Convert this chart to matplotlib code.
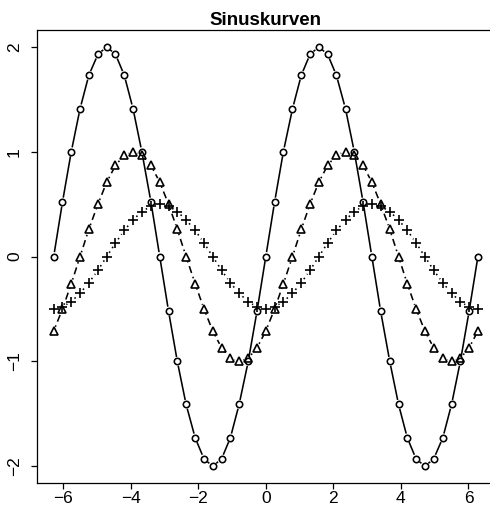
import numpy as np
import matplotlib.pyplot as plt
from matplotlib.collections import LineCollection

plt.rcParams.update({
    'font.family': ['Liberation Sans', 'DejaVu Sans'],
    'font.size': 12,
    'xtick.direction': 'out',
    'ytick.direction': 'out',
    'axes.linewidth': 0.9,
})

# x positions (-2pi .. 2pi, step pi/12)
x = [-6.28, -6.02, -5.76, -5.50, -5.24, -4.97, -4.71, -4.45, -4.19, -3.93,
     -3.67, -3.40, -3.14, -2.88, -2.62, -2.36, -2.09, -1.83, -1.57, -1.31,
     -1.05, -0.79, -0.52, -0.26, 0.00, 0.26, 0.52, 0.79, 1.05, 1.31,
     1.57, 1.83, 2.09, 2.36, 2.62, 2.88, 3.14, 3.40, 3.67, 3.93,
     4.19, 4.45, 4.71, 4.97, 5.24, 5.50, 5.76, 6.02, 6.28]

y_circle = [0.00, 0.52, 1.00, 1.41, 1.73, 1.93, 2.00, 1.93, 1.73, 1.41,
            1.00, 0.52, 0.00, -0.52, -1.00, -1.41, -1.73, -1.93, -2.00, -1.93,
            -1.73, -1.41, -1.00, -0.52, 0.00, 0.52, 1.00, 1.41, 1.73, 1.93,
            2.00, 1.93, 1.73, 1.41, 1.00, 0.52, 0.00, -0.52, -1.00, -1.41,
            -1.73, -1.93, -2.00, -1.93, -1.73, -1.41, -1.00, -0.52, 0.00]

y_triangle = [-0.71, -0.50, -0.26, 0.00, 0.26, 0.50, 0.71, 0.87, 0.97, 1.00,
              0.97, 0.87, 0.71, 0.50, 0.26, 0.00, -0.26, -0.50, -0.71, -0.87,
              -0.97, -1.00, -0.97, -0.87, -0.71, -0.50, -0.26, 0.00, 0.26, 0.50,
              0.71, 0.87, 0.97, 1.00, 0.97, 0.87, 0.71, 0.50, 0.26, 0.00,
              -0.26, -0.50, -0.71, -0.87, -0.97, -1.00, -0.97, -0.87, -0.71]

y_plus = [-0.50, -0.48, -0.43, -0.35, -0.25, -0.13, 0.00, 0.13, 0.25, 0.35,
          0.43, 0.48, 0.50, 0.48, 0.43, 0.35, 0.25, 0.13, 0.00, -0.13,
          -0.25, -0.35, -0.43, -0.48, -0.50, -0.48, -0.43, -0.35, -0.25, -0.13,
          0.00, 0.13, 0.25, 0.35, 0.43, 0.48, 0.50, 0.48, 0.43, 0.35,
          0.25, 0.13, 0.00, -0.13, -0.25, -0.35, -0.43, -0.48, -0.50]

W, H = 490, 505
fig = plt.figure(figsize=(W / 100, H / 100), dpi=100)
# plot box runs a little past the right edge, as in the original
ax = fig.add_axes([36.6 / W, 22 / H, (495 - 36.6) / W, (483 - 30.2) / H])
ax.set_xlim(-6.786, 6.786)
ax.set_ylim(-2.16, 2.16)


def gapped(xs, ys, ls, gap=4.5):
    # R style type="b": segments stop short of the points
    pts = ax.transData.transform(np.column_stack([xs, ys]))
    inv = ax.transData.inverted()
    segs = []
    for p, q in zip(pts[:-1], pts[1:]):
        d = q - p
        n = np.hypot(*d)
        if n <= 2 * gap:
            continue
        u = d / n
        segs.append(inv.transform([p + u * gap, q - u * gap]))
    ax.add_collection(LineCollection(segs, colors='black', linewidths=1.15,
                                     linestyles=ls))


gapped(x, y_circle, 'solid')
gapped(x, y_triangle, (0, (1.0, 2.5, 4.5, 2.5)))
gapped(x, y_plus, (0, (1.0, 2.5)))

ax.plot(x, y_circle, 'o', ms=4.6, mfc='none', mec='black', mew=1.15)
ax.plot(x, y_triangle, '^', ms=5.6, mfc='none', mec='black', mew=1.2)
ax.plot(x, y_plus, '+', ms=7, mec='black', mew=1.2)

ax.set_xticks([-6, -4, -2, 0, 2, 4, 6])
ax.set_yticks([-2, -1, 0, 1, 2])
ax.tick_params(axis='both', length=4.5, width=0.9, labelsize=12.5)
ax.tick_params(axis='x', pad=1.5)
ax.tick_params(axis='y', pad=6, labelrotation=90)
for t in ax.get_yticklabels():
    t.set_va('center')

ax.set_title('Sinuskurven', fontweight='bold', fontsize=13.5, pad=4)

plt.savefig('out.png', dpi=100)
